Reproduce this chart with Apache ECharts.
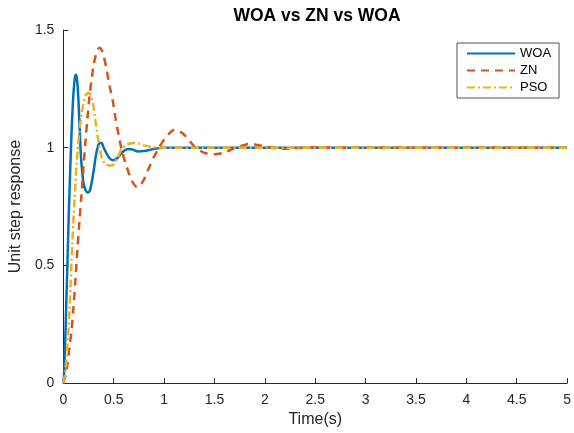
<!DOCTYPE html>
<html>
<head>
<meta charset="utf-8">
<script src="https://cdn.jsdelivr.net/npm/echarts@6/dist/echarts.min.js"></script>
<style>
html,body{margin:0;padding:0;background:#fff;overflow:hidden;}
#chart{width:574px;height:433px;}
</style>
</head>
<body>
<div id="chart"></div>
<script>
const titleText = 'WOA vs ZN vs WOA';
const xAxisName = 'Time(s)';
const yAxisName = 'Unit step response';
const seriesNames = ['WOA', 'ZN', 'PSO'];

const woaT = [0,0.01,0.02,0.03,0.04,0.05,0.06,0.07,0.08,0.09,0.1,0.11,0.12,0.13,0.14,0.15,0.16,0.17,0.18,0.2,0.22,0.24,0.26,0.28,0.3,0.32,0.34,0.36,0.38,0.4,0.43,0.46,0.5,0.54,0.58,0.62,0.66,0.7,0.74,0.8,0.9,1.0,1.2,1.5,2,3,4,5];
const woaY = [0,0.06,0.2,0.36,0.5,0.66,0.8,0.93,1.05,1.15,1.23,1.28,1.31,1.305,1.27,1.2,1.1,1.0,0.93,0.85,0.82,0.81,0.815,0.85,0.9,0.96,1.0,1.02,1.02,1.0,0.975,0.955,0.947,0.958,0.978,0.992,0.995,0.99,0.984,0.986,0.995,1.0,1.0,1.0,1.0,1.0,1.0,1.0];

const znT = [0,0.02,0.04,0.06,0.08,0.1,0.12,0.14,0.16,0.18,0.2,0.22,0.24,0.26,0.28,0.3,0.32,0.34,0.36,0.38,0.4,0.43,0.46,0.49,0.52,0.55,0.58,0.62,0.66,0.7,0.73,0.76,0.8,0.85,0.9,0.95,1.0,1.05,1.1,1.15,1.2,1.25,1.3,1.35,1.4,1.5,1.6,1.7,1.8,1.85,1.9,2.0,2.1,2.2,2.3,2.5,2.7,3,4,5];
const znY = [0,0.03,0.08,0.15,0.22,0.32,0.44,0.57,0.69,0.8,0.92,1.03,1.13,1.22,1.29,1.35,1.39,1.415,1.425,1.415,1.39,1.33,1.26,1.2,1.12,1.05,0.99,0.93,0.88,0.845,0.833,0.838,0.865,0.915,0.962,1.0,1.035,1.06,1.075,1.07,1.055,1.03,1.005,0.99,0.978,0.972,0.98,0.998,1.012,1.016,1.014,1.005,0.998,0.996,0.998,1.002,1.0,1.0,1.0,1.0];

const psoT = [0,0.02,0.03,0.04,0.05,0.06,0.07,0.08,0.09,0.1,0.11,0.12,0.13,0.14,0.16,0.18,0.2,0.22,0.25,0.28,0.3,0.32,0.34,0.36,0.38,0.41,0.44,0.47,0.5,0.54,0.58,0.62,0.66,0.7,0.75,0.8,0.9,1.0,1.5,2,3,4,5];
const psoY = [0,0.05,0.1,0.16,0.22,0.3,0.4,0.5,0.6,0.69,0.77,0.85,0.92,0.98,1.07,1.14,1.19,1.22,1.233,1.21,1.17,1.11,1.05,1.0,0.96,0.935,0.926,0.924,0.93,0.96,0.995,1.01,1.018,1.02,1.017,1.01,1.002,1.0,1.0,1.0,1.0,1.0,1.0];

const xTicks = [0, 0.5, 1, 1.5, 2, 2.5, 3, 3.5, 4, 4.5, 5];
const yTicks = [0, 0.5, 1, 1.5];

function pairs(t, y) { return t.map((v, i) => [v, y[i]]); }

const axisColor = '#262626';
const font = 'Liberation Sans, Arial, Helvetica, sans-serif';
const chart = echarts.init(document.getElementById('chart'), null, {renderer: 'canvas', width: 574, height: 433});
chart.setOption({
  animation: false,
  backgroundColor: '#fff',
  title: {
    text: titleText, left: 317, top: 7, textAlign: 'center', padding: 0,
    textStyle: {fontFamily: font, fontSize: 17.5, fontWeight: 'bold', color: '#000'}
  },
  grid: {left: 62, right: 2, top: 30, bottom: 43, containLabel: false},
  legend: {
    orient: 'vertical', left: 457, top: 43,
    data: seriesNames,
    itemWidth: 48, itemHeight: 14, itemGap: 4,
    padding: [4, 8, 4, 9],
    borderColor: axisColor, borderWidth: 0.8,
    backgroundColor: '#fff',
    itemStyle: {opacity: 0},
    textStyle: {fontFamily: font, fontSize: 13, color: '#000'}
  },
  xAxis: {
    type: 'value', min: 0, max: 5, interval: 0.5,
    name: xAxisName, nameLocation: 'middle', nameGap: 24,
    nameTextStyle: {fontFamily: font, fontSize: 16, color: axisColor},
    axisLine: {lineStyle: {color: axisColor, width: 1}},
    axisTick: {inside: true, length: 5, lineStyle: {color: axisColor}},
    axisLabel: {fontFamily: font, fontSize: 14, color: axisColor, margin: 10,
      formatter: v => xTicks.includes(v) ? String(v) : ''},
    splitLine: {show: false}
  },
  yAxis: {
    type: 'value', min: 0, max: 1.5, interval: 0.5,
    name: yAxisName, nameLocation: 'middle', nameGap: 34, nameRotate: 90,
    nameTextStyle: {fontFamily: font, fontSize: 16, color: axisColor},
    axisLine: {lineStyle: {color: axisColor, width: 1}},
    axisTick: {inside: true, length: 5, lineStyle: {color: axisColor}},
    axisLabel: {fontFamily: font, fontSize: 14, color: axisColor, margin: 9,
      formatter: v => yTicks.includes(v) ? String(v) : ''},
    splitLine: {show: false}
  },
  series: [
    {name: seriesNames[0], type: 'line', data: pairs(woaT, woaY), smooth: 0.3, showSymbol: false, symbol: 'none', z: 3,
     lineStyle: {color: '#0072BD', width: 2.5}, itemStyle: {color: '#0072BD'}},
    {name: seriesNames[1], type: 'line', data: pairs(znT, znY), smooth: 0.3, showSymbol: false, symbol: 'none', z: 4,
     lineStyle: {color: '#D95319', width: 2.5, type: [8, 6]}, itemStyle: {color: '#D95319'}},
    {name: seriesNames[2], type: 'line', data: pairs(psoT, psoY), smooth: 0.3, showSymbol: false, symbol: 'none', z: 5,
     lineStyle: {color: '#EDB120', width: 2.5, type: [8, 3, 2, 3]}, itemStyle: {color: '#EDB120'}}
  ]
});
</script>
</body>
</html>
